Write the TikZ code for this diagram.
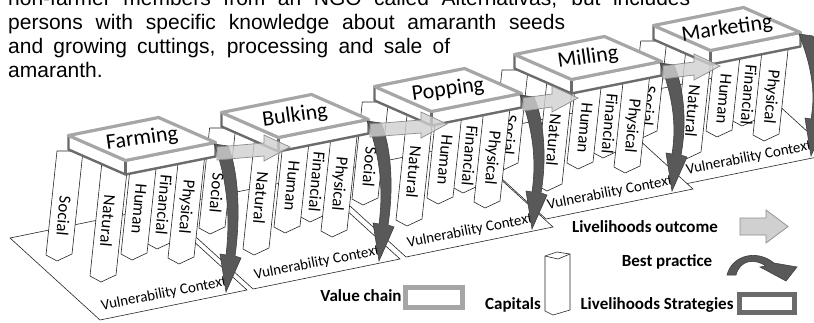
\documentclass[tikz,border=0pt]{standalone}
\usepackage{fontspec}
\setmainfont{Liberation Sans}
\newfontfamily\calib{Carlito}
\definecolor{vcgray}{HTML}{A6A6A6}
\definecolor{lsgray}{HTML}{6B6B6B}
\definecolor{logray}{HTML}{D0D0D0}
\definecolor{bpgray}{HTML}{595959}

\begin{document}
\begin{tikzpicture}[x=1pt,y=-1pt,
    roofface/.style={fill=white,draw=vcgray,line width=3.2pt,line join=round},
    bandface/.style={fill=white,draw=lsgray,line width=2.4pt,line join=round},
    pillar/.style={fill=white,draw=black!85,line width=0.6pt,line join=round},
    platform/.style={fill=white,draw=black!85,line width=0.6pt},
    outcome/.style={fill=logray,fill opacity=0.8,draw=black!45,line width=0.7pt},
    practice/.style={fill=bpgray,draw=black!75,line width=0.6pt},
    pillarlab/.style={font=\calib\fontsize{17}{17}\selectfont,inner sep=0pt,rotate=-95},
    rooflab/.style={font=\calib\fontsize{22}{22}\selectfont,inner sep=0pt,rotate=8},
    baselab/.style={font=\calib\fontsize{15}{15}\selectfont,inner sep=0pt,rotate=11},
    legendlab/.style={font=\calib\bfseries\fontsize{17}{17}\selectfont,inner sep=0pt},
    textline/.style={anchor=base west,inner sep=0pt,font=\fontsize{21}{25}\selectfont}]
  \useasboundingbox (0,0) rectangle (814,322);
  \clip (0,0) rectangle (814,322);

  % text above the picture
  \node[textline] (line1) at (8,5) {\makebox[682pt][s]{non-farmer members from an NGO called Alternativas, but includes}};
  \node[textline] (line2) at (8,29) {\makebox[557pt][s]{persons with specific knowledge about amaranth seeds}};
  \node[textline] (line3) at (8,53) {\makebox[442pt][s]{and growing cuttings, processing and sale of}};
  \node[textline] (line4) at (8,77) {amaranth.};

  % stages, drawn from the back to the front
  \foreach \stage/\ox/\oy/\drop/\tipx in {Marketing/727/29/-26/0, Milling/588/58/-20/132, Popping/448/90/-14/130, Bulking/295/116/-8/152, Farming/142/139/0/148}{
    \begin{scope}[shift={(\ox,\oy)}]
      % vulnerability context
      \draw[platform] (-132,{99+\drop}) -- (-42,{181+\drop}) -- (105,{151+\drop}) -- (15,{69+\drop}) -- cycle;
      \node[baselab] (\stage-vc) at (22,{155+\drop}) {Vulnerability Context};
      % capitals
      \foreach \lab/\px/\py/\pb in {Financial/22/66/110, Human/-3/70/121, Social/-78/77/122, Physical/44/68/125, Natural/-34/82/143}{
        \pgfmathsetmacro\pbot{\pb+0.5*\drop}
        \pgfmathsetmacro\pbx{\px-5}
        \pgfmathsetmacro\ptx{0.1*(\pbot-12)}
        \draw[pillar] ({\pbx-13+\ptx},12) -- ({\pbx+13+\ptx},12) -- ({\pbx+13},{\pbot-7}) -- ({\pbx-2},\pbot) -- ({\pbx-13},{\pbot-6}) -- cycle;
        \node[pillarlab] (\stage-\lab) at (\px,\py) {\lab};
      }
      % strategies and value chain
      \draw[bandface] (-73.5,-3.5) -- (-16.5,21.5) -- (73.5,3.5) -- (73.5,17.5) -- (-16.5,35.5) -- (-73.5,10.5) -- cycle;
      \draw[lsgray,line width=2.4pt] (-16.5,21.5) -- (-16.5,35.5);
      \draw[roofface] (-73.5,-3.5) -- (16.5,-21.5) -- (73.5,3.5) -- (-16.5,21.5) -- cycle;
      \node[rooflab] (\stage) at (0,0) {\stage};
      % best practice
      \draw[practice] (72,5) -- (86,7) .. controls (96,30) and (99,{75+\drop/2}) .. (93,{117+\drop}) -- (99,{119+\drop}) -- (84,{153+\drop}) -- (78,{115+\drop}) -- (84,{116+\drop}) .. controls (89,{75+\drop/2}) and (84,36) .. (72,5) -- cycle;
      % outcome
      \ifnum\tipx>0
        \draw[outcome] (75,8) -- ({\tipx-26},4) -- ({\tipx-26},-4) -- (\tipx,8) -- ({\tipx-26},22) -- ({\tipx-26},17) -- (75,21) -- cycle;
      \fi
    \end{scope}
  }

  % legend
  \node[legendlab] (lo-lab) at (645,227) {Livelihoods outcome};
  \draw[outcome,fill opacity=1] (740,218) -- (766,218) -- (766,210) -- (788,226.5) -- (766,243) -- (766,235) -- (740,235) -- cycle;
  \node[legendlab] (bp-lab) at (667,262) {Best practice};
  \draw[practice] (727,275) .. controls (732,255) and (757,249) .. (774,263) -- (797,267) -- (786,281) -- (760,267) -- (766,266) .. controls (754,258) and (740,260) .. (736,275) -- cycle;
  \node[legendlab] (vc-lab) at (361,296) {Value chain};
  \draw[vcgray,line width=5pt] (405.5,287.5) rectangle (462.5,307.5);
  \node[legendlab] (cap-lab) at (513,305) {Capitals};
  \draw[pillar] (545,256) -- (557,252) -- (570,254) -- (570,310) -- (553,315) -- (545,311) -- cycle;
  \draw[pillar] (545,256) -- (558,259) -- (570,254);
  \node[legendlab] (ls-lab) at (657,305) {Livelihoods Strategies};
  \draw[lsgray,line width=5pt] (739.5,294.5) rectangle (794.5,312.5);
\end{tikzpicture}
\end{document}
